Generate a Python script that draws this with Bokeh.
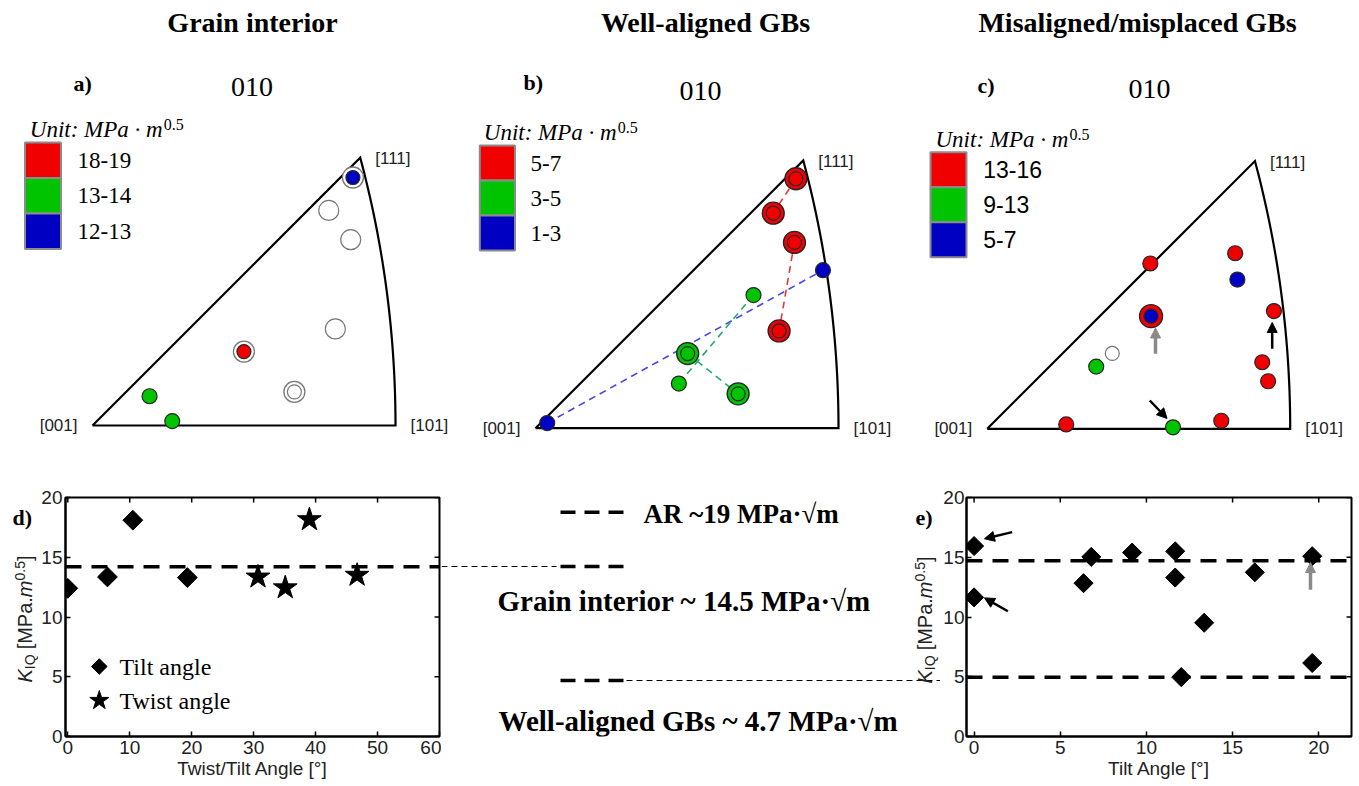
import numpy as np
from bokeh.plotting import figure
from bokeh.models import Label, Arrow, NormalHead, FixedTicker, Range1d, Span
from bokeh.layouts import row, column
from bokeh.embed import file_html
from bokeh.resources import INLINE

# ---------------- data ----------------
TITLES = ["Grain interior", "Well-aligned GBs", "Misaligned/misplaced GBs"]
TAGS = ["a)", "b)", "c)"]
POLE = "010"
UNIT_TEXT = "Unit: MPa · m"
UNIT_EXP = "0.5"
CORNER_LABELS = ["[001]", "[101]", "[111]"]

BIN_CLASSES = ["high", "mid", "low"]
A_BINS = ["18-19", "13-14", "12-13"]
B_BINS = ["5-7", "3-5", "1-3"]
C_BINS = ["13-16", "9-13", "5-7"]

# inverse pole figure points, stereographic coordinates (x, y)
A_U = [0.356, 0.323, 0.353, 0.332, 0.276, 0.207, 0.078, 0.109]
A_V = [0.339, 0.294, 0.254, 0.132, 0.046, 0.101, 0.040, 0.006]
A_CLS = ["low", "none", "none", "none", "none", "high", "mid", "mid"]
A_RING = ["none", "", "", "", "none", "none", "", ""]

B_U = [0.356, 0.325, 0.354, 0.333, 0.016, 0.393, 0.298, 0.196, 0.208, 0.277]
B_V = [0.341, 0.294, 0.254, 0.133, 0.007, 0.216, 0.182, 0.061, 0.102, 0.047]
B_CLS = ["high", "high", "high", "high", "low", "low", "mid", "mid", "mid", "mid"]
B_RING = ["high", "high", "high", "high", "", "", "", "", "mid", "mid"]
B_PAIRS = [(0, 1), (2, 3), (4, 5), (6, 7), (8, 9)]

C_U = [0.223, 0.339, 0.342, 0.392, 0.224, 0.171, 0.149, 0.376, 0.384, 0.108, 0.254, 0.320]
C_V = [0.226, 0.240, 0.204, 0.161, 0.154, 0.103, 0.085, 0.091, 0.065, 0.006, 0.002, 0.011]
C_CLS = ["high", "high", "low", "high", "low", "none", "mid", "high", "high", "high", "mid", "high"]
C_RING = ["", "", "", "", "high", "", "", "", "", "", "", ""]

D_TILT_ANGLE = [0.0, 6.4, 10.5, 19.3]
D_TILT_K = [12.4, 13.35, 18.1, 13.3]
D_TWIST_ANGLE = [30.7, 35.1, 39.0, 46.7]
D_TWIST_K = [13.35, 12.45, 18.15, 13.5]
D_MEAN = 14.2
D_LEGEND = ["Tilt angle", "Twist angle"]

E_TILT = [0.0, 0.0, 6.35, 6.8, 9.17, 11.67, 11.67, 12.02, 13.35, 16.29, 19.62, 19.62]
E_K = [15.94, 11.64, 12.83, 15.03, 15.39, 15.5, 13.3, 4.97, 9.52, 13.74, 15.09, 6.15]
E_LEVELS = [14.7, 4.95]

D_XTICKS = [0, 10, 20, 30, 40, 50, 60]
E_XTICKS = [0, 5, 10, 15, 20]
K_TICKS = [0, 5, 10, 15, 20]
X_LABEL_D = "Twist/Tilt Angle [°]"
X_LABEL_E = "Tilt Angle [°]"
NOTES = ["AR ~19 MPa·√m", "Grain interior ~ 14.5 MPa·√m", "Well-aligned GBs ~ 4.7 MPa·√m"]

# ---------------- style ----------------
SERIF = "Liberation Serif"
SANS = "Liberation Sans"
COLORS = {"high": "#F00000", "mid": "#00C400", "low": "#0000C2", "none": "#FFFFFF"}
PAIR_COLORS = {"high": "#E23A3A", "mid": "#25A874", "low": "#4646E6"}
S = 731.5          # px per stereographic unit
TOP_H = 455
PW = 453
BOT_H = 786 - TOP_H
BT, BB = 42, 50                 # shared top / bottom borders of the lower row
F_TOP, F_BOT = TOP_H + BT, 786 - BB   # page rows of the lower frames


def edge(c):
    return "#777777" if c == "none" else "#262626"


PANELS = [
    dict(left=0, ox=92.0, oy=425.0, u=A_U, v=A_V, cls=A_CLS, ring=A_RING, bins=A_BINS,
         bin_font=SERIF, sw=(24.5, 60.5, 142.0, 248.5), bin_x=77, unit=(29.3, 129.3),
         tag=(73, 82.5), pole=(251.5, 86), title=252, open_size=20, ring_size=21),
    dict(left=453, ox=535.0, oy=427.7, u=B_U, v=B_V, cls=B_CLS, ring=B_RING, bins=B_BINS,
         bin_font=SERIF, sw=(479.3, 514.5, 145.0, 250.0), bin_x=530, unit=(483.3, 132.3),
         tag=(523, 82), pole=(700, 90), title=705, open_size=15, ring_size=22),
    dict(left=906, ox=986.7, oy=428.3, u=C_U, v=C_V, cls=C_CLS, ring=C_RING, bins=C_BINS,
         bin_font=SANS, sw=(930.0, 966.0, 151.7, 256.7), bin_x=982.7, unit=(935, 139),
         tag=(977, 85), pole=(1149, 88), title=1137, open_size=14, ring_size=23),
]

P101 = (np.tan(np.pi / 8), 0.0)
P111 = (1 / (1 + np.sqrt(3)), 1 / (1 + np.sqrt(3)))


def blank(width, height, xr, yr, bt=0, bb=0):
    p = figure(width=width, height=height, x_range=xr, y_range=yr,
               output_backend="svg", toolbar_location=None,
               x_axis_location=None, y_axis_location=None, min_border=0,
               min_border_top=bt, min_border_bottom=bb)
    p.grid.visible = False
    p.outline_line_color = None
    return p


def ipf_panel(i, cfg):
    left, ox, oy = cfg["left"], cfg["ox"], cfg["oy"]
    p = blank(PW, TOP_H, Range1d((left - ox) / S, (left + PW - ox) / S),
              Range1d((oy - TOP_H) / S, oy / S))

    def T(px, py):
        return (px - ox) / S, (oy - py) / S

    def lab(px, py, text, font, size, style="normal", align="left", baseline="middle", color="black"):
        x, y = T(px, py)
        p.add_layout(Label(x=x, y=y, text=text, text_font=font, text_font_size=f"{size}px",
                           text_font_style=style, text_align=align, text_baseline=baseline,
                           text_color=color))

    lab(cfg["title"], 22, TITLES[i], SERIF, 28, style="bold", align="center")
    lab(cfg["tag"][0], cfg["tag"][1], TAGS[i], SERIF, 22, style="bold")
    lab(cfg["pole"][0], cfg["pole"][1], POLE, SERIF, 28, align="center")
    lab(cfg["unit"][0], cfg["unit"][1], UNIT_TEXT, SERIF, 23, style="italic", baseline="alphabetic")
    lab(cfg["unit"][0] + 134, cfg["unit"][1] - 5.3, UNIT_EXP, SERIF, 16, baseline="alphabetic")

    # colour key
    x0, x1, y0, y1 = cfg["sw"]
    h = (y1 - y0) / 3
    for k, c in enumerate(BIN_CLASSES):
        a0, b0 = T(x0, y0 + k * h)
        a1, b1 = T(x1, y0 + (k + 1) * h)
        p.quad(left=[a0], right=[a1], top=[b0], bottom=[b1], fill_color=COLORS[c],
               line_color="#8c8c8c", line_width=2)
        lab(cfg["bin_x"], y0 + (k + 0.5) * h, cfg["bins"][k], cfg["bin_font"], 23)

    # standard triangle
    t = np.linspace(0, np.arctan2(P111[1], 1 + P111[0]), 60)
    xs = [0.0] + list(-1 + np.sqrt(2) * np.cos(t)) + [0.0]
    ys = [0.0] + list(np.sqrt(2) * np.sin(t)) + [0.0]
    p.line(xs, ys, line_color="black", line_width=2.2, line_join="miter")
    off = 15 / S
    for (x, y, txt, al) in [(-off, 0, CORNER_LABELS[0], "right"),
                            (P101[0] + off, 0, CORNER_LABELS[1], "left"),
                            (P111[0] + off, P111[1] - 1 / S, CORNER_LABELS[2], "left")]:
        p.add_layout(Label(x=x, y=y, text=txt, text_font=SANS, text_font_size="17px",
                           text_align=al, text_baseline="middle", text_color="#222222"))

    u, v, cls, ring = cfg["u"], cfg["v"], cfg["cls"], cfg["ring"]
    if i == 1:
        for a, b in B_PAIRS:
            p.line([u[a], u[b]], [v[a], v[b]], line_color=PAIR_COLORS[cls[a]], line_width=1.6,
                   line_dash="7 5")
    for k in range(len(u)):
        if ring[k]:
            p.scatter([u[k]], [v[k]], size=cfg["ring_size"], marker="circle",
                      fill_color=COLORS[ring[k]], line_color=edge(ring[k]), line_width=1.3)
    for k in range(len(u)):
        if ring[k]:
            sz = 14
        elif cls[k] == "none":
            sz = cfg["open_size"]
        else:
            sz = 15
        p.scatter([u[k]], [v[k]], size=sz, marker="circle", fill_color=COLORS[cls[k]],
                  line_color=edge(cls[k]), line_width=1.2)

    if i == 2:
        for (xa, ya, xb, yb, c, w) in [(1155, 353.3, 1155, 327.5, "#8a8a8a", 3.5),
                                       (1271.7, 348.3, 1271.7, 322.0, "black", 2.5),
                                       (1149.3, 400.0, 1166.5, 418.0, "black", 2.5)]:
            sx, sy = T(xa, ya)
            ex, ey = T(xb, yb)
            p.add_layout(Arrow(end=NormalHead(size=10, fill_color=c, line_color=c),
                               x_start=sx, y_start=sy, x_end=ex, y_end=ey,
                               line_color=c, line_width=w))
    return p


def style_axes(p, xt, yt, xlabel, lbl_standoff, axlbl_standoff, ylbl_standoff):
    p.grid.visible = False
    p.outline_line_color = "black"
    p.outline_line_width = 2
    for ax, ticks in ((p.below[0], xt), (p.left[0], yt)):
        ax.ticker = FixedTicker(ticks=ticks)
        ax.major_tick_in = 5
        ax.major_tick_out = 0
        ax.minor_tick_line_color = None
        ax.axis_line_width = 2
        ax.major_tick_line_width = 1.5
        ax.major_label_text_font = SANS
        ax.major_label_text_font_size = "19px"
        ax.major_label_text_color = "#222222"
        ax.major_label_standoff = lbl_standoff
    p.left[0].major_label_standoff = ylbl_standoff
    p.below[0].axis_label = xlabel
    p.below[0].axis_label_text_font = SANS
    p.below[0].axis_label_text_font_size = "19px"
    p.below[0].axis_label_text_font_style = "normal"
    p.below[0].axis_label_text_color = "#222222"
    p.below[0].axis_label_standoff = axlbl_standoff
    # mirrored inward ticks on the top and right edges (outer half clipped by the frame)
    xr, yr = p.x_range, p.y_range
    p.scatter(xt, [yr.end] * len(xt), marker="dash", angle=np.pi / 2, size=10,
              line_color="black", line_width=1.5)
    p.scatter([xr.end] * len(yt), yt, marker="dash", size=10, line_color="black", line_width=1.5)


def k_label(p, xb, ys):
    """Rotated K_IQ [MPa.m^0.5] label, pieces anchored at their centres (page pixels)."""
    # (text, font px, style, baseline shift, advance in em, gap before in px)
    pieces = [("K", 20, "italic", 0, 0.667, 0), ("IQ", 14, "normal", 3, 1.056, 0),
              ("[MPa.", 20, "normal", 0, 2.612, 5), ("m", 20, "italic", 0, 0.833, 0),
              ("0.5", 14, "normal", -7, 1.39, 0), ("]", 20, "normal", 0, 0.278, 0)]
    y = ys
    for txt, fs, st, dx, w, gap in pieces:
        y -= gap
        length = w * fs
        p.add_layout(Label(x=xb + dx - 0.33 * fs, y=y - length / 2, text=txt, angle=np.pi / 2,
                           text_font=SANS, text_font_size=f"{fs}px", text_font_style=st,
                           text_align="center", text_baseline="middle", text_color="#222222"))
        y -= length


def tag(p, px, py, txt):
    p.add_layout(Label(x=px, y=py, text=txt, text_font=SERIF, text_font_size="22px",
                       text_font_style="bold", text_baseline="middle", text_color="black"))


top = [ipf_panel(i, cfg) for i, cfg in enumerate(PANELS)]

# ---- left strip holding the label of panel d (page-pixel coordinates) ----
pl = blank(38, BOT_H, Range1d(0, 38), Range1d(F_BOT, F_TOP), BT, BB)
tag(pl, 12, 517, "d)")
k_label(pl, 31, 682)

# ---- panel d ----
pd_ = figure(width=403, height=BOT_H, x_range=Range1d(-0.37, 60), y_range=Range1d(0, 20),
             output_backend="svg", toolbar_location=None,
             min_border_left=25, min_border_right=2, min_border_top=BT, min_border_bottom=BB)
style_axes(pd_, D_XTICKS, K_TICKS, X_LABEL_D, 4, 1, 3)
pd_.add_layout(Span(location=D_MEAN, dimension="width", line_color="black", line_width=3.5,
                    line_dash="16 10"))
pd_.scatter(D_TILT_ANGLE, D_TILT_K, marker="square", angle=np.pi / 4, size=14, color="black")
pd_.scatter(D_TWIST_ANGLE, D_TWIST_K, marker="star", size=25, color="black")
# key (placed in page pixels, converted to the panel's data units)
dxu = 60.37 / 376.0
dyu = 20.0 / (F_BOT - F_TOP)
for mk, sz, py in (("square", 11, 666), ("star", 20, 700)):
    pd_.scatter([-0.37 + (97 - 63) * dxu], [20 - (py - F_TOP) * dyu], marker=mk,
                angle=np.pi / 4 if mk == "square" else 0, size=sz, color="black")
for txt, py in zip(D_LEGEND, (666, 700)):
    pd_.add_layout(Label(x=117 - 63, y=F_BOT - py, x_units="screen", y_units="screen", text=txt,
                         text_font=SERIF, text_font_size="24px", text_baseline="middle",
                         text_color="black"))

# ---- middle notes (also holds the label of panel e) ----
pm = blank(499, BOT_H, Range1d(441, 940), Range1d(F_BOT, F_TOP), BT, BB)
for yy in (511.7, 566.0, 680.0):
    pm.line([560, 623], [yy, yy], line_color="black", line_width=3.5, line_dash="15 9")
pm.line([441, 556], [566.0, 566.0], line_color="black", line_width=1.1, line_dash="6 4")
pm.line([626, 940], [680.0, 680.0], line_color="black", line_width=1.1, line_dash="6 4")
for txt, (px, py, fs) in zip(NOTES, [(643, 513, 27), (497, 600, 29), (498, 720, 29)]):
    pm.add_layout(Label(x=px, y=py, text=txt, text_font=SERIF, text_font_size=f"{fs}px",
                        text_font_style="bold", text_baseline="middle", text_color="black"))
tag(pm, 915, 517, "e)")
k_label(pm, 931, 683)

# ---- panel e ----
pe = figure(width=419, height=BOT_H, x_range=Range1d(-0.44, 21.9), y_range=Range1d(0, 20),
            output_backend="svg", toolbar_location=None,
            min_border_left=23, min_border_right=8, min_border_top=BT, min_border_bottom=BB)
style_axes(pe, E_XTICKS, K_TICKS, X_LABEL_E, 4, 1, 2)
for lv in E_LEVELS:
    pe.add_layout(Span(location=lv, dimension="width", line_color="black", line_width=3.5,
                       line_dash="16 10"))
pe.scatter(E_TILT, E_K, marker="square", angle=np.pi / 4, size=13.5, color="black")
for (x0, y0, x1, y1, c, w) in [(2.21, 17.1, 0.6, 16.55, "black", 2.5),
                               (1.96, 10.48, 0.6, 11.6, "black", 2.5),
                               (19.52, 12.28, 19.52, 14.55, "#8a8a8a", 3.5)]:
    pe.add_layout(Arrow(end=NormalHead(size=10, fill_color=c, line_color=c), x_start=x0,
                        y_start=y0, x_end=x1, y_end=y1, line_color=c, line_width=w))

layout = column(row(*top), row(pl, pd_, pm, pe))
open("out.html", "w").write(file_html(layout, INLINE))
